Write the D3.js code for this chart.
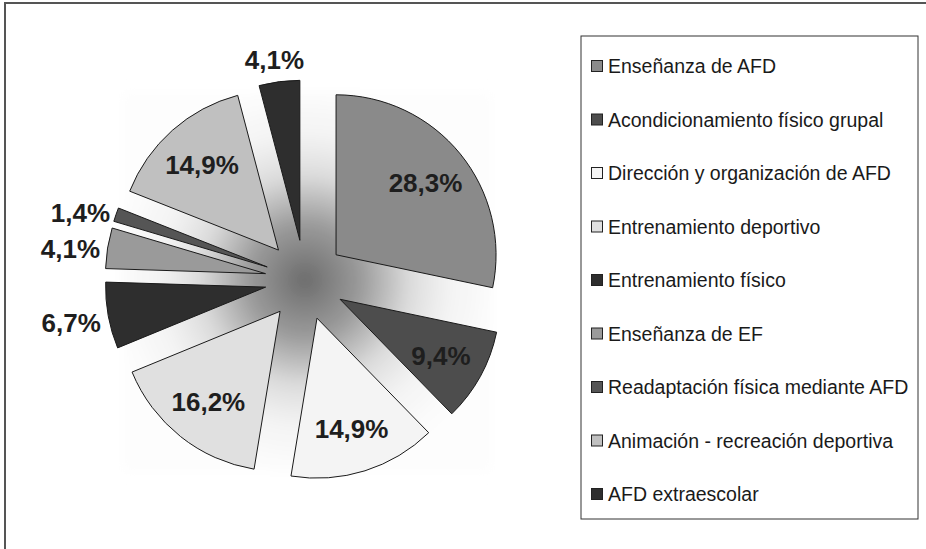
<!DOCTYPE html>
<html>
<head>
<meta charset="utf-8">
<script src="https://cdn.jsdelivr.net/npm/d3@7"></script>
<style>
  html, body { margin: 0; padding: 0; background: #fff; }
  svg { display: block; }
</style>
</head>
<body>
<svg id="chart" width="926" height="549"></svg>
<script>
// ---- data ----
const categories = [
  "Enseñanza de AFD",
  "Acondicionamiento físico grupal",
  "Dirección y organización de AFD",
  "Entrenamiento deportivo",
  "Entrenamiento físico",
  "Enseñanza de EF",
  "Readaptación física mediante AFD",
  "Animación - recreación deportiva",
  "AFD extraescolar"
];
const values = [28.3, 9.4, 14.9, 16.2, 6.7, 4.1, 1.4, 14.9, 4.1];
const valueLabels = ["28,3%", "9,4%", "14,9%", "16,2%", "6,7%", "4,1%", "1,4%", "14,9%", "4,1%"];
const colors = ["#8a8a8a", "#4d4d4d", "#f4f4f4", "#e0e0e0", "#2e2e2e", "#9a9a9a", "#555555", "#c0c0c0", "#2e2e2e"];

// ---- layout ----
const W = 926, H = 549;
const cx = 305, cy = 280;
const R = 160;
const explode = 40;

const svg = d3.select("#chart");
const defs = svg.append("defs");

// outer frame (top and left visible)
svg.append("rect")
  .attr("x", 5).attr("y", 3).attr("width", 1000).attr("height", 1000)
  .attr("fill", "none").attr("stroke", "#555").attr("stroke-width", 2);

// radial background gradient behind the pie
const rg = defs.append("radialGradient")
  .attr("id", "bgGrad")
  .attr("gradientUnits", "userSpaceOnUse")
  .attr("cx", cx).attr("cy", cy).attr("r", 195);
[[0, "#6b6b6b"], [0.17, "#888888"], [0.28, "#999999"], [0.54, "#dcdcdc"], [0.74, "#f3f3f3"], [1, "#fdfdfd"]]
  .forEach(([o, c]) => rg.append("stop").attr("offset", o).attr("stop-color", c));
const blur = defs.append("filter").attr("id", "soft").attr("x", "-10%").attr("y", "-10%").attr("width", "120%").attr("height", "120%");
blur.append("feGaussianBlur").attr("stdDeviation", 6);

svg.append("rect")
  .attr("x", 122).attr("y", 92).attr("width", 370).attr("height", 380)
  .attr("fill", "url(#bgGrad)")
  .attr("filter", "url(#soft)");

// pie
const pie = d3.pie().sort(null).value(d => d)
  .startAngle(0).endAngle(2 * Math.PI);
const arcs = pie(values);
const arcGen = d3.arc().innerRadius(0).outerRadius(R);

const g = svg.append("g").attr("transform", `translate(${cx},${cy})`);

arcs.forEach((a, i) => {
  const mid = (a.startAngle + a.endAngle) / 2;
  const dx = Math.sin(mid) * explode, dy = -Math.cos(mid) * explode;
  g.append("path")
    .attr("d", arcGen(a))
    .attr("transform", `translate(${dx},${dy})`)
    .attr("fill", colors[i])
    .attr("stroke", "#1a1a1a")
    .attr("stroke-width", 1)
    .attr("stroke-linejoin", "miter");
});

// labels
const labelFont = "bold 26px 'Liberation Sans', Arial, sans-serif";
arcs.forEach((a, i) => {
  const mid = (a.startAngle + a.endAngle) / 2;
  const ux = Math.sin(mid), uy = -Math.cos(mid);
  const ax = ux * explode, ay = uy * explode;
  const t = g.append("text")
    .text(valueLabels[i])
    .style("font", labelFont)
    .attr("fill", "#1e1e1e")
    .attr("text-anchor", "middle")
    .attr("dominant-baseline", "central");
  let x, y;
  if (values[i] >= 8) {
    const rr = R * 0.72;
    x = ax + ux * rr; y = ay + uy * rr;
  } else {
    const w = t.node().getComputedTextLength();
    const h = 19;
    const px = ax + ux * R, py = ay + uy * R;
    const pad = 8;
    x = px + ux * (pad + w / 2);
    y = py + uy * (pad + h / 2) + (Math.abs(uy) > 0.9 ? -5 : 3);
  }
  t.attr("x", x).attr("y", y + 1);
});

// legend
const lg = svg.append("g");
lg.append("rect")
  .attr("x", 581).attr("y", 36).attr("width", 337).attr("height", 483)
  .attr("fill", "#fff").attr("stroke", "#333").attr("stroke-width", 1);

const rowY = d3.scalePoint().domain(categories).range([66, 494]);
categories.forEach((c, i) => {
  const y = rowY(c);
  lg.append("rect")
    .attr("x", 591.5).attr("y", y - 5.5).attr("width", 11).attr("height", 11)
    .attr("fill", colors[i]).attr("stroke", "#222").attr("stroke-width", 1);
  lg.append("text")
    .attr("x", 608).attr("y", y)
    .attr("dominant-baseline", "central")
    .style("font", "19.5px 'Liberation Sans', Arial, sans-serif")
    .attr("fill", "#1a1a1a")
    .text(c);
});
</script>
</body>
</html>
